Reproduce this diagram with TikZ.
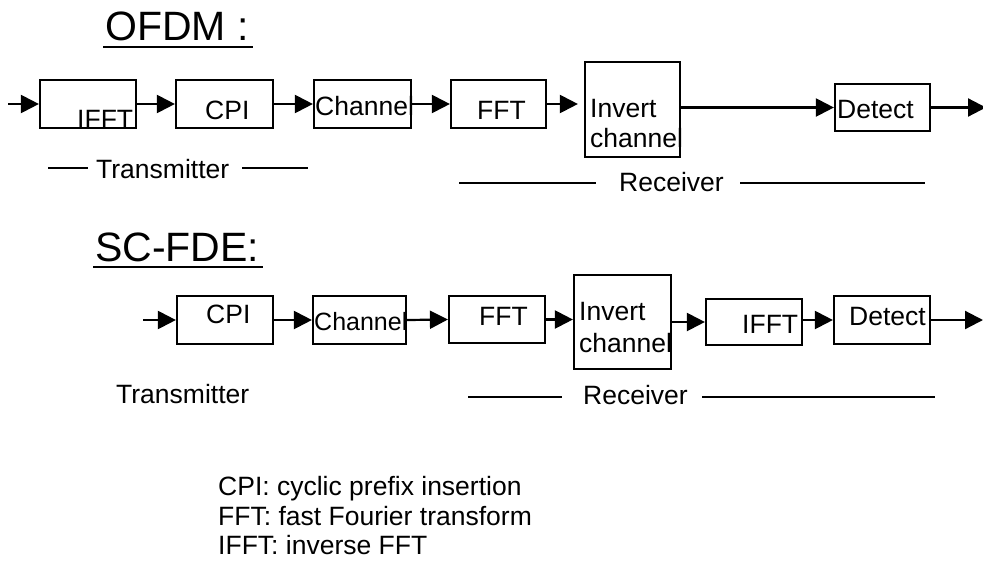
\documentclass[tikz,border=0pt]{standalone}
\usepackage{fontspec}
\setmainfont{Liberation Sans}
\usetikzlibrary{arrows.meta}
\begin{document}
\begin{tikzpicture}[x=1pt,y=-1pt,
  blk/.style 2 args={draw,line width=2.2pt,minimum width=#1pt,minimum height=#2pt,inner sep=0pt},
  lbl/.style={anchor=base west,inner sep=0pt,font=\fontsize{26.5}{30}\selectfont},
  ttl/.style={anchor=base west,inner sep=0pt,font=\fontsize{41}{48}\selectfont},
  leg/.style={anchor=base west,inner sep=0pt,font=\fontsize{26.5}{30}\selectfont},
  arr/.style={line width=2.2pt,-{Triangle[length=18pt,width=18pt]}},
  rule/.style={line width=2.2pt}]
\useasboundingbox (0,0) rectangle (983,560);

% ---------------- OFDM chain ----------------
\node[ttl] (tOFDM) at (105,40) {OFDM :};
\draw[rule] (103,47) -- (253,47);

\node[blk={96}{48}] (ifftA) at (88,104) {};
\node[blk={97}{48}] (cpiA) at (224.5,104) {};
\node[blk={97}{48}] (chanA) at (362.5,104) {};
\node[blk={95}{48}] (fftA) at (498.5,104) {};
\node[blk={95}{95}] (invA) at (632.5,109.5) {};
\node[blk={95}{47}] (detA) at (882.5,107.5) {};

\node[lbl] (ifftAt) at (77,128) {IFFT};
\node[lbl] (cpiAt) at (205,119) {CPI};
\node[lbl] (chanAt) at (315,115) {Channel};
\node[lbl] (fftAt) at (477,119) {FFT};
\node[lbl] (invAt) at (590,117) {Invert};
\node[lbl] (invAt2) at (590,147) {channel};
\node[lbl] (detAt) at (837,118) {Detect};

\coordinate (inA) at (8,104);
\coordinate (outA) at (986,107.5);
\draw[arr] (inA) -- (ifftA.west);
\draw[arr] (ifftA.east) -- (cpiA.west);
\draw[arr] (cpiA.east) -- (chanA.west);
\draw[arr] (chanA.east) -- (fftA.west);
\draw[arr,shorten >=6pt] (fftA.east) -- (fftA.east -| invA.west);
\draw[arr] (invA.east |- detA.west) -- (detA.west);
\draw[arr] (detA.east) -- (outA);

\node[lbl] (txA) at (96,178) {Transmitter};
\draw[rule] (48,168) -- (88,168);
\draw[rule] (242,168) -- (308,168);
\node[lbl] (rxA) at (619,191) {Receiver};
\draw[rule] (459,183) -- (596,183);
\draw[rule] (740,183) -- (925,183);

% ---------------- SC-FDE chain ----------------
\node[ttl] (tSC) at (95,261) {SC-FDE:};
\draw[rule] (93,267) -- (263,267);

\node[blk={96}{48}] (cpiB) at (225,320) {};
\node[blk={93}{48}] (chanB) at (359.5,320) {};
\node[blk={96}{47}] (fftB) at (497,319.5) {};
\node[blk={97}{94}] (invB) at (622.5,322) {};
\node[blk={96}{46}] (ifftB) at (754,322) {};
\node[blk={96}{48}] (detB) at (882,320) {};

\node[lbl] (cpiBt) at (206,323) {CPI};
\node[lbl,font=\fontsize{25}{30}\selectfont] (chanBt) at (314,330) {Channel};
\node[lbl] (fftBt) at (479,325) {FFT};
\node[lbl] (invBt) at (579,320) {Invert};
\node[lbl] (invBt2) at (579,352) {channel};
\node[lbl] (ifftBt) at (742,333) {IFFT};
\node[lbl] (detBt) at (849,325) {Detect};

\coordinate (inB) at (143,320);
\coordinate (outB) at (983,320);
\draw[arr] (inB) -- (cpiB.west);
\draw[arr] (cpiB.east) -- (chanB.west);
\draw[arr] (chanB.east) -- (fftB.west);
\draw[arr] (fftB.east) -- (fftB.east -| invB.west);
\draw[arr] (invB.east |- ifftB.west) -- (ifftB.west);
\draw[arr] (ifftB.east |- detB.west) -- (detB.west);
\draw[arr] (detB.east) -- (outB);

\node[lbl] (txB) at (116,403) {Transmitter};
\node[lbl] (rxB) at (583,404) {Receiver};
\draw[rule] (468,397) -- (562,397);
\draw[rule] (702,397) -- (935,397);

% ---------------- abbreviations ----------------
\node[leg] (l1) at (218,495) {CPI: cyclic prefix insertion};
\node[leg] (l2) at (218,525) {FFT: fast Fourier transform};
\node[leg] (l3) at (218,554) {IFFT: inverse FFT};
\end{tikzpicture}
\end{document}
